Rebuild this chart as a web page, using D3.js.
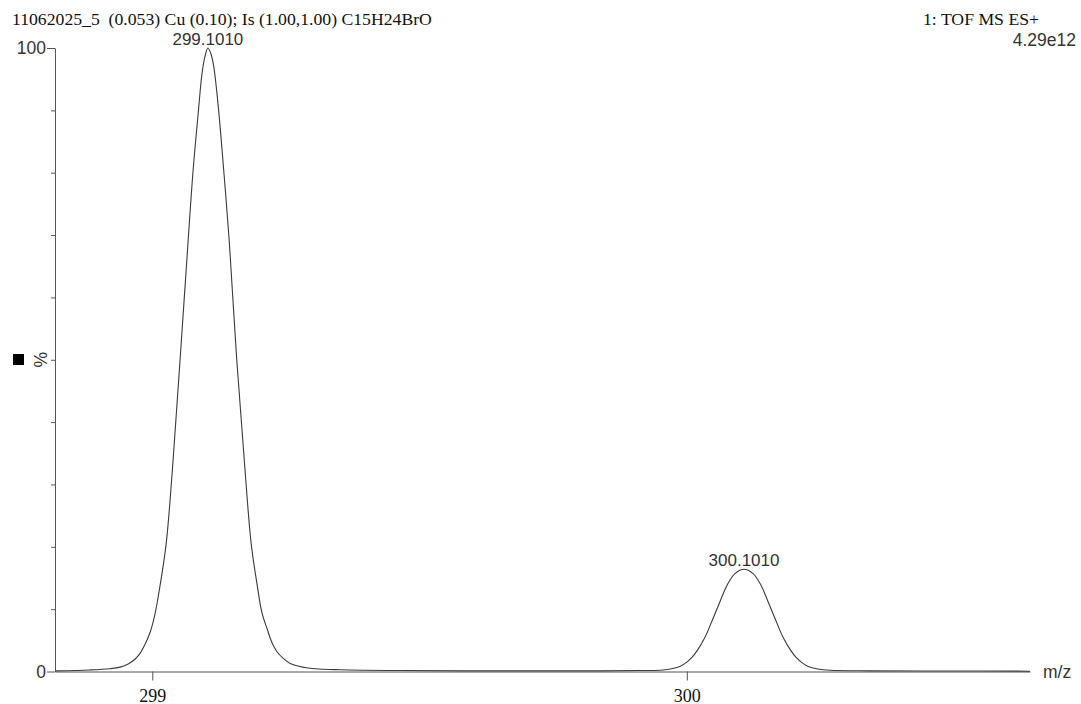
<!DOCTYPE html>
<html>
<head>
<meta charset="utf-8">
<script src="https://cdn.jsdelivr.net/npm/d3@7"></script>
<style>
  body { margin: 0; background: #fff; }
  .serif { font-family: "Liberation Serif", "Times New Roman", serif; }
  .sans { font-family: "Liberation Sans", Arial, sans-serif; }
</style>
</head>
<body>
<div id="chart"></div>
<script>
// profile: m/z and relative intensity (%)
var mz = [298.820, 298.883, 298.921, 298.940, 298.955, 298.968, 298.977, 298.986, 298.996, 299.005,
          299.014, 299.026, 299.039, 299.052, 299.067, 299.076, 299.087, 299.093, 299.099, 299.104,
          299.110, 299.115, 299.123, 299.134, 299.144, 299.158, 299.172, 299.185, 299.196, 299.205,
          299.215, 299.224, 299.233, 299.245, 299.258, 299.276, 299.304, 299.351, 299.463, 299.651,
          299.838, 299.912, 299.950, 299.969, 299.987, 300.000, 300.010, 300.019, 300.034, 300.049,
          300.062, 300.075, 300.090, 300.107, 300.124, 300.139, 300.152, 300.165, 300.180, 300.195,
          300.204, 300.214, 300.227, 300.245, 300.268, 300.343, 300.492, 300.642];
var pct = [0.1, 0.25, 0.45, 0.7, 1.2, 2.0, 2.9, 4.3, 6.3, 9.2,
           13.5, 20.5, 34, 50, 69, 80, 90.6, 95.9, 98.8, 100,
           99, 97, 91, 80, 69, 50, 34, 20.5, 14, 9.5,
           6.8, 4.6, 3.2, 2.1, 1.3, 0.8, 0.45, 0.28, 0.15, 0.1,
           0.1, 0.15, 0.2, 0.4, 0.8, 1.5, 2.3, 3.3, 5.5, 8.5,
           11.2, 13.8, 15.7, 16.4, 15.7, 13.8, 11.2, 8.5, 5.5, 3.3,
           2.3, 1.5, 0.8, 0.4, 0.2, 0.1, 0.08, 0.05];

var peakText = ["299.1010", "300.1010"];
var peakMz = [299.104, 300.107];
var peakPct = [100, 16.4];

var xTicks = [299, 300];
var yTicks = [0, 10, 20, 30, 40, 50, 60, 70, 80, 90, 100];
var yLabels = [0, 100];

var width = 1081, height = 704;
var svg = d3.select("#chart").append("svg")
    .attr("width", width)
    .attr("height", height);

var x = d3.scaleLinear().domain([298.818, 300.642]).range([55, 1030]);
var y = d3.scaleLinear().domain([0, 100]).range([671.5, 48]);

// header texts
svg.append("text").attr("class", "serif")
    .attr("x", 12).attr("y", 25)
    .style("font-size", "17.7px").attr("fill", "#111")
    .text("11062025_5\u00a0\u00a0(0.053) Cu (0.10); Is (1.00,1.00) C15H24BrO");
svg.append("text").attr("class", "serif")
    .attr("x", 1039).attr("y", 25).attr("text-anchor", "end")
    .style("font-size", "17.7px").attr("fill", "#111")
    .text("1: TOF MS ES+");
svg.append("text").attr("class", "sans")
    .attr("x", 1076).attr("y", 46).attr("text-anchor", "end")
    .style("font-size", "17.5px").attr("fill", "#333")
    .text("4.29e12");

// y axis
var yAxis = svg.append("g")
    .attr("transform", "translate(55,0)")
    .call(d3.axisLeft(y).tickValues(yTicks).tickSize(4).tickSizeOuter(0)
        .tickFormat(function(d) { return yLabels.indexOf(d) > -1 ? d : ""; }));
yAxis.select(".domain").attr("stroke", "#555");
yAxis.selectAll(".tick line").attr("stroke", "#555")
    .attr("x2", function(d) { return yLabels.indexOf(d) > -1 ? -8 : -4; });
yAxis.selectAll(".tick text")
    .attr("x", -9)
    .attr("class", "sans")
    .style("font-size", "17.5px").attr("fill", "#333");
yAxis.attr("font-family", null).attr("font-size", null);

// x axis
var xAxis = svg.append("g")
    .attr("transform", "translate(0," + y(0) + ")")
    .call(d3.axisBottom(x).tickValues(xTicks).tickSize(9).tickSizeOuter(0).tickFormat(d3.format("d")));
xAxis.select(".domain").attr("stroke", "#555");
xAxis.selectAll(".tick line").attr("stroke", "#555");
xAxis.selectAll(".tick text")
    .attr("dy", null).attr("y", 30)
    .attr("class", "serif")
    .style("font-size", "18px").attr("fill", "#111");
xAxis.attr("font-family", null).attr("font-size", null);

svg.append("text").attr("class", "sans")
    .attr("x", 1043).attr("y", 678)
    .style("font-size", "17.5px").attr("fill", "#333")
    .text("m/z");

// % label with the little square
svg.append("rect").attr("x", 13).attr("y", 354).attr("width", 11).attr("height", 11).attr("fill", "#000");
svg.append("text").attr("class", "sans")
    .attr("transform", "translate(47," + y(50) + ") rotate(-90)")
    .attr("text-anchor", "middle")
    .style("font-size", "17.5px").attr("fill", "#333")
    .text("%");

// spectrum
var pts = mz.map(function(m, i) { return [m, pct[i]]; });
var line = d3.line()
    .x(function(d) { return x(d[0]); })
    .y(function(d) { return y(d[1]); })
    .curve(d3.curveCatmullRom.alpha(0.5));

svg.append("path")
    .datum(pts)
    .attr("d", line)
    .attr("fill", "none")
    .attr("stroke", "#3a3a3a")
    .attr("stroke-width", 1.1);

// peak labels
svg.selectAll(".peak")
    .data(peakText)
    .enter().append("text")
      .attr("class", "sans")
      .attr("x", function(d, i) { return x(peakMz[i]); })
      .attr("y", function(d, i) { return y(peakPct[i]) - 3; })
      .attr("text-anchor", "middle")
      .style("font-size", "17px").attr("fill", "#333")
      .text(function(d) { return d; });
</script>
</body>
</html>
